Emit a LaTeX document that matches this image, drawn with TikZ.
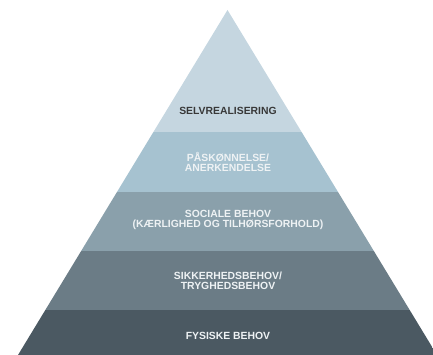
\documentclass[tikz,border=0pt]{standalone}
\usepackage{fontspec}
\setmainfont{Liberation Sans}
\begin{document}
\begin{tikzpicture}[x=1pt,y=-1pt,
  lvl/.style={font=\fontsize{10.4}{10}\selectfont\bfseries, align=center, inner sep=0pt},
  lighttext/.style={lvl, text=white!90!blue!40!gray},
  darktext/.style={lvl, text=black!78}]
  \definecolor{bandA}{HTML}{C5D6E0}
  \definecolor{bandB}{HTML}{A6C2D0}
  \definecolor{bandC}{HTML}{8AA0AB}
  \definecolor{bandD}{HTML}{6B7C86}
  \definecolor{bandE}{HTML}{4B5962}
  \definecolor{txtlight}{HTML}{EEF2F4}
  \useasboundingbox (0,0) rectangle (433,355);
  \coordinate (apex) at (227.5,10);
  \coordinate (bl) at (18,355);
  \coordinate (br) at (437,355);
  \begin{scope}
    \clip (0,0) rectangle (433,355);
    \clip (apex) -- (bl) -- (br) -- cycle;
    \fill[bandA] (0,0) rectangle (433,132);
    \fill[bandB] (0,132) rectangle (433,192);
    \fill[bandC] (0,192) rectangle (433,251);
    \fill[bandD] (0,251) rectangle (433,310);
    \fill[bandE] (0,310) rectangle (433,356);
  \end{scope}
  \node[darktext] (l1) at (228,111) {SELVREALISERING};
  \node[lvl, text=txtlight] (l2) at (228,162) {PÅSKØNNELSE/\\ANERKENDELSE};
  \node[lvl, text=txtlight] (l3) at (228,220) {SOCIALE BEHOV\\(KÆRLIGHED OG TILHØRSFORHOLD)};
  \node[lvl, text=txtlight] (l4) at (228,281) {SIKKERHEDSBEHOV/\\TRYGHEDSBEHOV};
  \node[lvl, text=txtlight] (l5) at (228,336) {FYSISKE BEHOV};
\end{tikzpicture}
\end{document}
